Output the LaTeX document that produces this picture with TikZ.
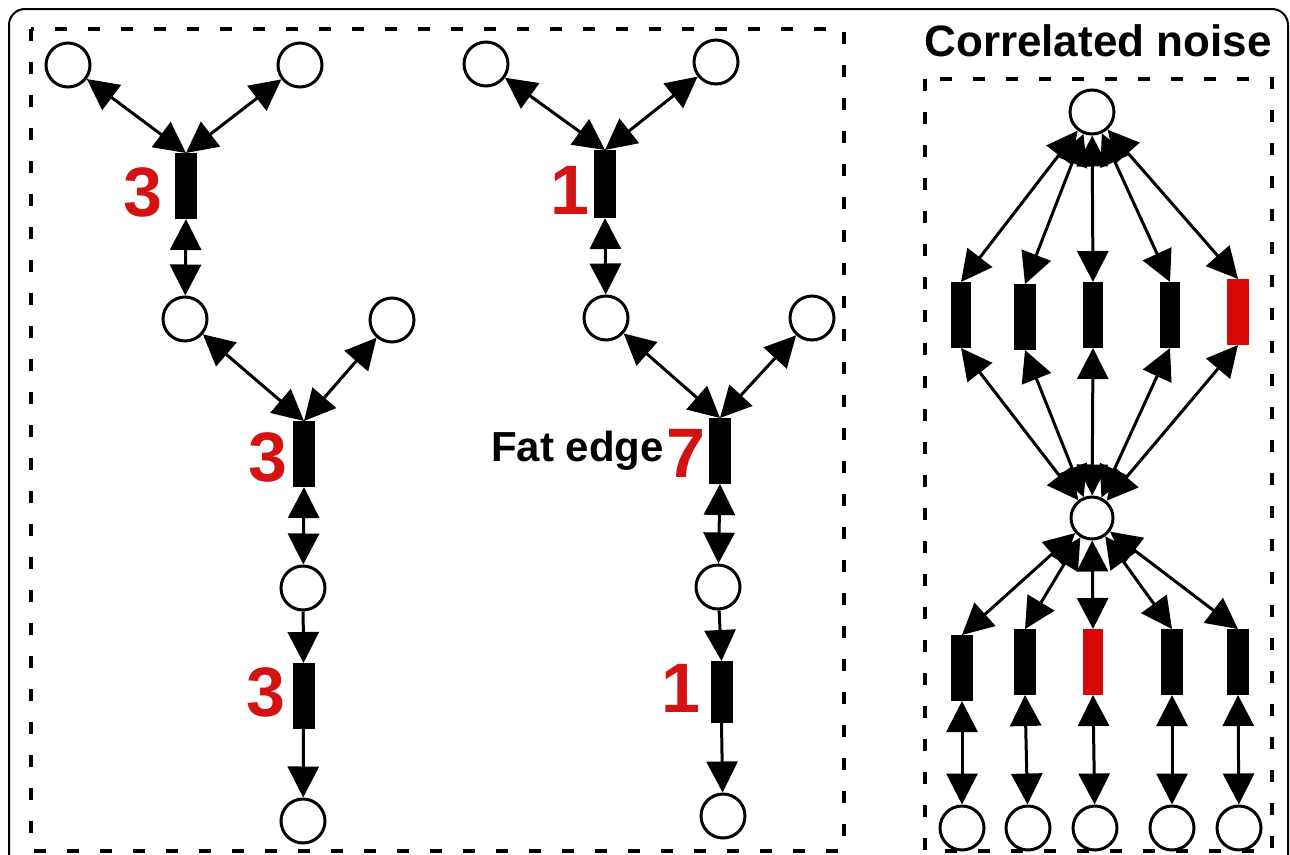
\documentclass[tikz,border=0pt]{standalone}
\usepackage{fontspec}
\setmainfont{Liberation Sans}
\usetikzlibrary{arrows.meta}
\definecolor{edgered}{RGB}{214,8,8}
\definecolor{labelred}{RGB}{212,18,18}

\begin{document}
\begin{tikzpicture}[x=1pt,y=-1pt,
  conn/.style={line width=3pt},
  both/.style={conn,{Triangle[length=31pt,width=31pt]}-{Triangle[length=31pt,width=31pt]}},
  fwd/.style={conn,-{Triangle[length=31pt,width=31pt]}},
  var/.style={circle,draw,line width=3pt,minimum size=44pt,inner sep=0pt},
  fat/.style={rectangle,fill=black,minimum width=22pt,minimum height=66pt,inner sep=0pt,outer sep=0pt},
  noisy/.style={fat,fill=edgered},
  panel/.style={dash pattern=on 12pt off 21pt,line width=3.5pt},
  count/.style={font=\fontsize{70}{70}\selectfont\bfseries,text=labelred,inner sep=0pt},
  caption/.style={font=\fontsize{42}{42}\selectfont\bfseries,inner sep=0pt}
]
\useasboundingbox (0,0) rectangle (1290,854);
\clip (0,0) rectangle (1290,854);

% outer frame
\draw[line width=2pt,rounded corners=16pt] (9,9) rectangle (1288,900);

% dashed panels
\draw[panel] (31,29) rectangle (844,851);
\draw[panel] (925,79) rectangle (1272,851);
\node[caption,font=\fontsize{44}{44}\selectfont\bfseries,anchor=base] (title) at (1098,56) {Correlated noise};

% ---- first tree ----
\node[var] (a1) at (68,65) {};
\node[var] (a2) at (300,65) {};
\node[fat] (f1) at (186,186) {};
\node[var] (a3) at (185,319) {};
\node[var] (a4) at (392,320) {};
\node[fat] (f2) at (304,454) {};
\node[var] (a5) at (303,588) {};
\node[fat] (f3) at (303.5,696) {};
\node[var] (a6) at (303,821) {};

\node[count] (n1) at (143,192) {3};
\node[count] (n2) at (268,457) {3};
\node[count] (n3) at (266,692) {3};

\draw[both] (f1.north) -- (a1);
\draw[both] (f1.north) -- (a2);
\draw[both] (f1.south) -- (a3);
\draw[both] (a3) -- (f2.north);
\draw[both] (f2.north) -- (a4);
\draw[both] (f2.south) -- (a5);
\draw[fwd] (a5) -- (f3.north);
\draw[fwd] (f3.south) -- (a6);

% ---- second tree ----
\node[var] (b1) at (486,64) {};
\node[var] (b2) at (716,62) {};
\node[fat,minimum height=68pt] (g1) at (605,184) {};
\node[var] (b3) at (606,318) {};
\node[var] (b4) at (812,318) {};
\node[fat] (g2) at (720,451) {};
\node[var] (b5) at (718,587) {};
\node[fat,minimum height=62pt] (g3) at (721.5,692) {};
\node[var] (b6) at (723,816) {};

\node[count] (m1) at (570,190) {1};
\node[count] (m2) at (686,453) {7};
\node[caption,anchor=base east] (fatlabel) at (664,461) {Fat edge};
\node[count] (m3) at (681,688) {1};

\draw[both] (g1.north) -- (b1);
\draw[both] (g1.north) -- (b2);
\draw[both] (g1.south) -- (b3);
\draw[both] (b3) -- (g2.north);
\draw[both] (g2.north) -- (b4);
\draw[both] (g2.south) -- (b5);
\draw[fwd] (b5) -- (g3.north);
\draw[fwd] (g3.south) -- (b6);

% ---- correlated noise ----
\node[var] (t) at (1092,112) {};
\node[fat,minimum width=20pt] (u1) at (961,315) {};
\node[fat] (u2) at (1025,317) {};
\node[fat,minimum width=20pt] (u3) at (1093,315) {};
\node[fat,minimum width=20pt] (u4) at (1170,315) {};
\node[noisy] (u5) at (1238,312) {};
\node[var,minimum size=42pt] (m) at (1092,518) {};
\node[fat] (l1) at (962,668) {};
\node[fat] (l2) at (1025,662) {};
\node[noisy,minimum width=20pt] (l3) at (1093,662) {};
\node[fat] (l4) at (1172,662) {};
\node[fat] (l5) at (1238,662) {};
\node[var] (d1) at (962,828) {};
\node[var] (d2) at (1028,828) {};
\node[var] (d3) at (1095,828) {};
\node[var] (d4) at (1172,828) {};
\node[var] (d5) at (1239,828) {};

\foreach \i in {1,...,5}{
  \draw[both] (t) -- (u\i.north);
  \draw[both] (u\i.south) -- (m);
  \draw[both] (m) -- (l\i.north);
  \draw[both] (l\i.south) -- (d\i);
}
\end{tikzpicture}
\end{document}
